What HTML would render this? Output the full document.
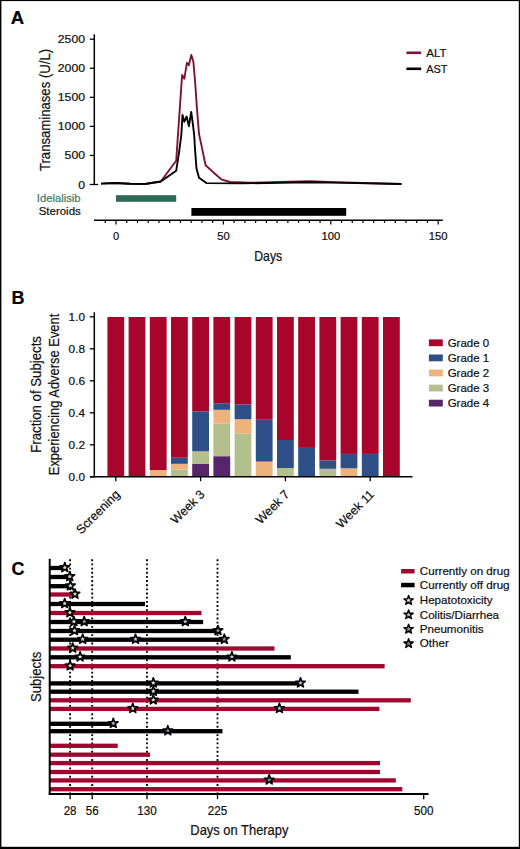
<!DOCTYPE html>
<html><head><meta charset="utf-8"><style>
html,body{margin:0;padding:0;background:#fff;}
#wrap{position:relative;width:520px;height:849px;overflow:hidden;}
svg{position:absolute;left:0;top:0;}
text{font-family:"Liberation Sans", sans-serif;stroke:#111;stroke-width:0.22px;}
</style></head><body><div id="wrap">
<svg width="520" height="849" viewBox="0 0 520 849">
<rect x="0" y="0" width="520" height="849" fill="#fff"/>
<text x="10.8" y="23.6" font-size="18.5" text-anchor="start" fill="#000" style="stroke:#000" font-weight="bold" >A</text>
<line x1="94.3" y1="34.3" x2="94.3" y2="184.8" stroke="#000" stroke-width="1.5"/>
<line x1="89.8" y1="39.20" x2="94.3" y2="39.20" stroke="#000" stroke-width="1.3"/>
<text x="85" y="43.2" font-size="11.3" text-anchor="end" fill="#111" style="stroke:#111" font-weight="normal" textLength="27.2" lengthAdjust="spacingAndGlyphs" >2500</text>
<line x1="89.8" y1="68.26" x2="94.3" y2="68.26" stroke="#000" stroke-width="1.3"/>
<text x="85" y="72.26" font-size="11.3" text-anchor="end" fill="#111" style="stroke:#111" font-weight="normal" textLength="27.2" lengthAdjust="spacingAndGlyphs" >2000</text>
<line x1="89.8" y1="97.32" x2="94.3" y2="97.32" stroke="#000" stroke-width="1.3"/>
<text x="85" y="101.32" font-size="11.3" text-anchor="end" fill="#111" style="stroke:#111" font-weight="normal" textLength="27.2" lengthAdjust="spacingAndGlyphs" >1500</text>
<line x1="89.8" y1="126.38" x2="94.3" y2="126.38" stroke="#000" stroke-width="1.3"/>
<text x="85" y="130.38" font-size="11.3" text-anchor="end" fill="#111" style="stroke:#111" font-weight="normal" textLength="27.2" lengthAdjust="spacingAndGlyphs" >1000</text>
<line x1="89.8" y1="155.44" x2="94.3" y2="155.44" stroke="#000" stroke-width="1.3"/>
<text x="85" y="159.44" font-size="11.3" text-anchor="end" fill="#111" style="stroke:#111" font-weight="normal" textLength="20.4" lengthAdjust="spacingAndGlyphs" >500</text>
<line x1="89.8" y1="184.50" x2="98.2" y2="184.50" stroke="#000" stroke-width="1.3"/>
<text x="85" y="188.5" font-size="11.3" text-anchor="end" fill="#111" style="stroke:#111" font-weight="normal" textLength="6.8" lengthAdjust="spacingAndGlyphs" >0</text>
<text transform="translate(49.6,110) rotate(-90)" font-size="14" text-anchor="middle" fill="#111" textLength="122.2" lengthAdjust="spacingAndGlyphs">Transaminases (U/L)</text>
<line x1="94" y1="220.3" x2="442.8" y2="220.3" stroke="#000" stroke-width="1.5"/>
<line x1="105.26" y1="220.3" x2="105.26" y2="222.9" stroke="#000" stroke-width="1.2"/>
<line x1="116.00" y1="220.3" x2="116.00" y2="224.5" stroke="#000" stroke-width="1.2"/>
<line x1="126.74" y1="220.3" x2="126.74" y2="222.9" stroke="#000" stroke-width="1.2"/>
<line x1="137.48" y1="220.3" x2="137.48" y2="222.9" stroke="#000" stroke-width="1.2"/>
<line x1="148.22" y1="220.3" x2="148.22" y2="222.9" stroke="#000" stroke-width="1.2"/>
<line x1="158.96" y1="220.3" x2="158.96" y2="222.9" stroke="#000" stroke-width="1.2"/>
<line x1="169.70" y1="220.3" x2="169.70" y2="222.9" stroke="#000" stroke-width="1.2"/>
<line x1="180.44" y1="220.3" x2="180.44" y2="222.9" stroke="#000" stroke-width="1.2"/>
<line x1="191.18" y1="220.3" x2="191.18" y2="222.9" stroke="#000" stroke-width="1.2"/>
<line x1="201.92" y1="220.3" x2="201.92" y2="222.9" stroke="#000" stroke-width="1.2"/>
<line x1="212.66" y1="220.3" x2="212.66" y2="222.9" stroke="#000" stroke-width="1.2"/>
<line x1="223.40" y1="220.3" x2="223.40" y2="224.5" stroke="#000" stroke-width="1.2"/>
<line x1="234.14" y1="220.3" x2="234.14" y2="222.9" stroke="#000" stroke-width="1.2"/>
<line x1="244.88" y1="220.3" x2="244.88" y2="222.9" stroke="#000" stroke-width="1.2"/>
<line x1="255.62" y1="220.3" x2="255.62" y2="222.9" stroke="#000" stroke-width="1.2"/>
<line x1="266.36" y1="220.3" x2="266.36" y2="222.9" stroke="#000" stroke-width="1.2"/>
<line x1="277.10" y1="220.3" x2="277.10" y2="222.9" stroke="#000" stroke-width="1.2"/>
<line x1="287.84" y1="220.3" x2="287.84" y2="222.9" stroke="#000" stroke-width="1.2"/>
<line x1="298.58" y1="220.3" x2="298.58" y2="222.9" stroke="#000" stroke-width="1.2"/>
<line x1="309.32" y1="220.3" x2="309.32" y2="222.9" stroke="#000" stroke-width="1.2"/>
<line x1="320.06" y1="220.3" x2="320.06" y2="222.9" stroke="#000" stroke-width="1.2"/>
<line x1="330.80" y1="220.3" x2="330.80" y2="224.5" stroke="#000" stroke-width="1.2"/>
<line x1="341.54" y1="220.3" x2="341.54" y2="222.9" stroke="#000" stroke-width="1.2"/>
<line x1="352.28" y1="220.3" x2="352.28" y2="222.9" stroke="#000" stroke-width="1.2"/>
<line x1="363.02" y1="220.3" x2="363.02" y2="222.9" stroke="#000" stroke-width="1.2"/>
<line x1="373.76" y1="220.3" x2="373.76" y2="222.9" stroke="#000" stroke-width="1.2"/>
<line x1="384.50" y1="220.3" x2="384.50" y2="222.9" stroke="#000" stroke-width="1.2"/>
<line x1="395.24" y1="220.3" x2="395.24" y2="222.9" stroke="#000" stroke-width="1.2"/>
<line x1="405.98" y1="220.3" x2="405.98" y2="222.9" stroke="#000" stroke-width="1.2"/>
<line x1="416.72" y1="220.3" x2="416.72" y2="222.9" stroke="#000" stroke-width="1.2"/>
<line x1="427.46" y1="220.3" x2="427.46" y2="222.9" stroke="#000" stroke-width="1.2"/>
<line x1="438.20" y1="220.3" x2="438.20" y2="224.5" stroke="#000" stroke-width="1.2"/>
<text x="116.0" y="240.4" font-size="11" text-anchor="middle" fill="#111" style="stroke:#111" font-weight="normal" textLength="6.2" lengthAdjust="spacingAndGlyphs" >0</text>
<text x="223.4" y="240.4" font-size="11" text-anchor="middle" fill="#111" style="stroke:#111" font-weight="normal" textLength="12.5" lengthAdjust="spacingAndGlyphs" >50</text>
<text x="330.8" y="240.4" font-size="11" text-anchor="middle" fill="#111" style="stroke:#111" font-weight="normal" textLength="18.8" lengthAdjust="spacingAndGlyphs" >100</text>
<text x="438.2" y="240.4" font-size="11" text-anchor="middle" fill="#111" style="stroke:#111" font-weight="normal" textLength="18.8" lengthAdjust="spacingAndGlyphs" >150</text>
<text x="268.2" y="260.6" font-size="14.6" text-anchor="middle" fill="#111" style="stroke:#111" font-weight="normal" textLength="27.9" lengthAdjust="spacingAndGlyphs" >Days</text>
<rect x="116" y="195.2" width="60.19999999999999" height="6.6" fill="#2f6a52"/>
<rect x="191.4" y="208" width="154.79999999999998" height="7.8" fill="#000"/>
<text x="80.6" y="202.1" font-size="11.2" text-anchor="end" fill="#3d7d64" style="stroke:#3d7d64" font-weight="normal" textLength="43.8" lengthAdjust="spacingAndGlyphs" >Idelalisib</text>
<text x="80.8" y="215.4" font-size="11.2" text-anchor="end" fill="#111" style="stroke:#111" font-weight="normal" textLength="42.1" lengthAdjust="spacingAndGlyphs" >Steroids</text>
<polyline points="101,183.6 115,183 130,183.8 145,184 160.8,181.5 176.2,160.8 182.1,75 184.3,78.8 186.9,62.8 188.8,65.3 191.3,55 193.4,61.8 195.2,83 196.9,107.7 199,134 201.5,145.6 205.6,165.3 213.8,172.7 221.2,179.3 230,182 250,182.8 280,182 310,181.3 335,182.3 401.5,184" fill="none" stroke="#801237" stroke-width="1.9" stroke-linejoin="round"/>
<polyline points="101,183.6 115,183 130,183.8 145,184 160.8,181.5 176.2,170.8 179.4,150 181.3,135 182.5,115 184.3,121.8 186.6,116.5 188.9,126.2 191.2,112 192.6,122 194.2,135 195,148.8 196.5,168.6 199,177.7 206.4,183.1 240,183.4 280,182.8 310,182.2 335,182.6 401.5,184" fill="none" stroke="#000" stroke-width="1.9" stroke-linejoin="round"/>
<line x1="406.4" y1="52.8" x2="421.2" y2="52.8" stroke="#801237" stroke-width="2.6"/>
<line x1="406.4" y1="68.8" x2="421.2" y2="68.8" stroke="#000" stroke-width="2.6"/>
<text x="426.2" y="56.8" font-size="11.4" text-anchor="start" fill="#111" style="stroke:#111" font-weight="normal" textLength="20.3" lengthAdjust="spacingAndGlyphs" >ALT</text>
<text x="426.2" y="73" font-size="11.4" text-anchor="start" fill="#111" style="stroke:#111" font-weight="normal" textLength="21.3" lengthAdjust="spacingAndGlyphs" >AST</text>
<text x="11.5" y="303.8" font-size="18" text-anchor="start" fill="#000" style="stroke:#000" font-weight="bold" >B</text>
<line x1="94.3" y1="312.3" x2="94.3" y2="477.5" stroke="#000" stroke-width="1.5"/>
<line x1="89.8" y1="316.80" x2="94.3" y2="316.80" stroke="#000" stroke-width="1.3"/>
<text x="85" y="320.5" font-size="11.4" text-anchor="end" fill="#111" style="stroke:#111" font-weight="normal" textLength="16.4" lengthAdjust="spacingAndGlyphs" >1.0</text>
<line x1="89.8" y1="348.80" x2="94.3" y2="348.80" stroke="#000" stroke-width="1.3"/>
<text x="85" y="352.5" font-size="11.4" text-anchor="end" fill="#111" style="stroke:#111" font-weight="normal" textLength="16.4" lengthAdjust="spacingAndGlyphs" >0.8</text>
<line x1="89.8" y1="380.80" x2="94.3" y2="380.80" stroke="#000" stroke-width="1.3"/>
<text x="85" y="384.5" font-size="11.4" text-anchor="end" fill="#111" style="stroke:#111" font-weight="normal" textLength="16.4" lengthAdjust="spacingAndGlyphs" >0.6</text>
<line x1="89.8" y1="412.80" x2="94.3" y2="412.80" stroke="#000" stroke-width="1.3"/>
<text x="85" y="416.5" font-size="11.4" text-anchor="end" fill="#111" style="stroke:#111" font-weight="normal" textLength="16.4" lengthAdjust="spacingAndGlyphs" >0.4</text>
<line x1="89.8" y1="444.80" x2="94.3" y2="444.80" stroke="#000" stroke-width="1.3"/>
<text x="85" y="448.5" font-size="11.4" text-anchor="end" fill="#111" style="stroke:#111" font-weight="normal" textLength="16.4" lengthAdjust="spacingAndGlyphs" >0.2</text>
<line x1="89.8" y1="476.80" x2="94.3" y2="476.80" stroke="#000" stroke-width="1.3"/>
<text x="85" y="480.5" font-size="11.4" text-anchor="end" fill="#111" style="stroke:#111" font-weight="normal" textLength="16.4" lengthAdjust="spacingAndGlyphs" >0.0</text>
<text transform="translate(41.2,394.4) rotate(-90)" font-size="14" text-anchor="middle" fill="#111" textLength="116.6" lengthAdjust="spacingAndGlyphs">Fraction of Subjects</text>
<text transform="translate(59.3,394.45) rotate(-90)" font-size="14" text-anchor="middle" fill="#111" textLength="161.5" lengthAdjust="spacingAndGlyphs">Experiencing Adverse Event</text>
<line x1="90" y1="476.8" x2="412.5" y2="476.8" stroke="#000" stroke-width="1.5"/>
<rect x="107.40" y="317" width="16.8" height="159.00" fill="#a8052c"/>
<rect x="128.60" y="317" width="16.8" height="159.00" fill="#a8052c"/>
<rect x="149.80" y="470" width="16.8" height="6.00" fill="#eeb27b"/>
<rect x="149.80" y="317" width="16.8" height="153.00" fill="#a8052c"/>
<rect x="171.00" y="469.5" width="16.8" height="6.50" fill="#b3bf8c"/>
<rect x="171.00" y="463.8" width="16.8" height="5.70" fill="#eeb27b"/>
<rect x="171.00" y="457.7" width="16.8" height="6.10" fill="#2f4f88"/>
<rect x="171.00" y="317" width="16.8" height="140.70" fill="#a8052c"/>
<rect x="192.20" y="464" width="16.8" height="12.00" fill="#55266a"/>
<rect x="192.20" y="451.3" width="16.8" height="12.70" fill="#b3bf8c"/>
<rect x="192.20" y="411.4" width="16.8" height="39.90" fill="#2f4f88"/>
<rect x="192.20" y="317" width="16.8" height="94.40" fill="#a8052c"/>
<rect x="213.40" y="456.2" width="16.8" height="19.80" fill="#55266a"/>
<rect x="213.40" y="423.4" width="16.8" height="32.80" fill="#b3bf8c"/>
<rect x="213.40" y="409.8" width="16.8" height="13.60" fill="#eeb27b"/>
<rect x="213.40" y="403.3" width="16.8" height="6.50" fill="#2f4f88"/>
<rect x="213.40" y="317" width="16.8" height="86.30" fill="#a8052c"/>
<rect x="234.60" y="433.4" width="16.8" height="42.60" fill="#b3bf8c"/>
<rect x="234.60" y="419.2" width="16.8" height="14.20" fill="#eeb27b"/>
<rect x="234.60" y="404.5" width="16.8" height="14.70" fill="#2f4f88"/>
<rect x="234.60" y="317" width="16.8" height="87.50" fill="#a8052c"/>
<rect x="255.80" y="461.6" width="16.8" height="14.40" fill="#eeb27b"/>
<rect x="255.80" y="419.2" width="16.8" height="42.40" fill="#2f4f88"/>
<rect x="255.80" y="317" width="16.8" height="102.20" fill="#a8052c"/>
<rect x="277.00" y="468" width="16.8" height="8.00" fill="#b3bf8c"/>
<rect x="277.00" y="440" width="16.8" height="28.00" fill="#2f4f88"/>
<rect x="277.00" y="317" width="16.8" height="123.00" fill="#a8052c"/>
<rect x="298.20" y="447.9" width="16.8" height="28.10" fill="#2f4f88"/>
<rect x="298.20" y="317" width="16.8" height="130.90" fill="#a8052c"/>
<rect x="319.40" y="468.8" width="16.8" height="7.20" fill="#b3bf8c"/>
<rect x="319.40" y="460.4" width="16.8" height="8.40" fill="#2f4f88"/>
<rect x="319.40" y="317" width="16.8" height="143.40" fill="#a8052c"/>
<rect x="340.60" y="468.3" width="16.8" height="7.70" fill="#eeb27b"/>
<rect x="340.60" y="453.9" width="16.8" height="14.40" fill="#2f4f88"/>
<rect x="340.60" y="317" width="16.8" height="136.90" fill="#a8052c"/>
<rect x="361.80" y="453.9" width="16.8" height="22.10" fill="#2f4f88"/>
<rect x="361.80" y="317" width="16.8" height="136.90" fill="#a8052c"/>
<rect x="383.00" y="317" width="16.8" height="159.00" fill="#a8052c"/>
<line x1="115.80" y1="476.8" x2="115.80" y2="481.2" stroke="#000" stroke-width="1.3"/>
<text transform="translate(120.60,495.2) rotate(-45)" font-size="12.4" text-anchor="end" fill="#111">Screening</text>
<line x1="200.60" y1="476.8" x2="200.60" y2="481.2" stroke="#000" stroke-width="1.3"/>
<text transform="translate(205.40,495.2) rotate(-45)" font-size="12.4" text-anchor="end" fill="#111">Week 3</text>
<line x1="285.40" y1="476.8" x2="285.40" y2="481.2" stroke="#000" stroke-width="1.3"/>
<text transform="translate(290.20,495.2) rotate(-45)" font-size="12.4" text-anchor="end" fill="#111">Week 7</text>
<line x1="370.20" y1="476.8" x2="370.20" y2="481.2" stroke="#000" stroke-width="1.3"/>
<text transform="translate(375.00,495.2) rotate(-45)" font-size="12.4" text-anchor="end" fill="#111">Week 11</text>
<rect x="428.9" y="339.40" width="13.9" height="6.8" fill="#a8052c"/>
<text x="447.7" y="346.9" font-size="11.5" text-anchor="start" fill="#111" style="stroke:#111" font-weight="normal" textLength="41.5" lengthAdjust="spacingAndGlyphs" >Grade 0</text>
<rect x="428.9" y="354.48" width="13.9" height="6.8" fill="#2f4f88"/>
<text x="447.7" y="361.98" font-size="11.5" text-anchor="start" fill="#111" style="stroke:#111" font-weight="normal" textLength="41.5" lengthAdjust="spacingAndGlyphs" >Grade 1</text>
<rect x="428.9" y="369.56" width="13.9" height="6.8" fill="#eeb27b"/>
<text x="447.7" y="377.06" font-size="11.5" text-anchor="start" fill="#111" style="stroke:#111" font-weight="normal" textLength="41.5" lengthAdjust="spacingAndGlyphs" >Grade 2</text>
<rect x="428.9" y="384.64" width="13.9" height="6.8" fill="#b3bf8c"/>
<text x="447.7" y="392.14" font-size="11.5" text-anchor="start" fill="#111" style="stroke:#111" font-weight="normal" textLength="41.5" lengthAdjust="spacingAndGlyphs" >Grade 3</text>
<rect x="428.9" y="399.72" width="13.9" height="6.8" fill="#55266a"/>
<text x="447.7" y="407.22" font-size="11.5" text-anchor="start" fill="#111" style="stroke:#111" font-weight="normal" textLength="41.5" lengthAdjust="spacingAndGlyphs" >Grade 4</text>
<text x="11.5" y="575" font-size="18" text-anchor="start" fill="#000" style="stroke:#000" font-weight="bold" >C</text>
<line x1="70.1" y1="559.3" x2="70.1" y2="794" stroke="#000" stroke-width="1.85" stroke-dasharray="1.85 2.313"/>
<line x1="92.2" y1="559.3" x2="92.2" y2="794" stroke="#000" stroke-width="1.85" stroke-dasharray="1.85 2.313"/>
<line x1="147" y1="559.3" x2="147" y2="794" stroke="#000" stroke-width="1.85" stroke-dasharray="1.85 2.313"/>
<line x1="217.5" y1="559.3" x2="217.5" y2="794" stroke="#000" stroke-width="1.85" stroke-dasharray="1.85 2.313"/>
<rect x="49.7" y="565.85" width="12.30" height="4.3" fill="#000"/>
<rect x="49.7" y="574.85" width="18.30" height="4.3" fill="#000"/>
<rect x="49.7" y="584.05" width="18.30" height="4.3" fill="#000"/>
<rect x="49.7" y="592.35" width="22.30" height="4.3" fill="#a0062f"/>
<rect x="49.7" y="601.85" width="95.30" height="4.3" fill="#000"/>
<rect x="49.7" y="610.85" width="151.80" height="4.3" fill="#a0062f"/>
<rect x="49.7" y="619.85" width="153.40" height="4.3" fill="#000"/>
<rect x="49.7" y="628.85" width="168.30" height="4.3" fill="#000"/>
<rect x="49.7" y="637.55" width="173.30" height="4.3" fill="#000"/>
<rect x="49.7" y="646.35" width="224.80" height="4.3" fill="#a0062f"/>
<rect x="49.7" y="655.15" width="241.10" height="4.3" fill="#000"/>
<rect x="49.7" y="664.05" width="334.90" height="4.3" fill="#a0062f"/>
<rect x="49.7" y="681.25" width="250.80" height="4.3" fill="#000"/>
<rect x="49.7" y="689.55" width="308.80" height="4.3" fill="#000"/>
<rect x="49.7" y="698.15" width="361.10" height="4.3" fill="#a0062f"/>
<rect x="49.7" y="706.75" width="329.70" height="4.3" fill="#a0062f"/>
<rect x="49.7" y="721.65" width="61.30" height="4.3" fill="#000"/>
<rect x="49.7" y="729.05" width="172.80" height="4.3" fill="#000"/>
<rect x="49.7" y="743.65" width="68.00" height="4.3" fill="#a0062f"/>
<rect x="49.7" y="752.55" width="100.30" height="4.3" fill="#a0062f"/>
<rect x="49.7" y="760.95" width="330.30" height="4.3" fill="#a0062f"/>
<rect x="49.7" y="769.85" width="330.30" height="4.3" fill="#a0062f"/>
<rect x="49.7" y="778.25" width="346.10" height="4.3" fill="#a0062f"/>
<rect x="49.7" y="787.05" width="352.60" height="4.3" fill="#a0062f"/>
<path d="M64.80,562.48 L65.98,565.86 L69.56,565.93 L66.70,568.09 L67.74,571.52 L64.80,569.48 L61.86,571.52 L62.90,568.09 L60.04,565.93 L63.62,565.86Z" fill="#f0d6b6" stroke="#000" stroke-width="1.65" stroke-linejoin="round"/>
<path d="M69.80,571.48 L70.98,574.86 L74.56,574.93 L71.70,577.09 L72.74,580.52 L69.80,578.48 L66.86,580.52 L67.90,577.09 L65.04,574.93 L68.62,574.86Z" fill="#f0d6b6" stroke="#000" stroke-width="1.65" stroke-linejoin="round"/>
<path d="M70.40,580.68 L71.58,584.06 L75.16,584.13 L72.30,586.29 L73.34,589.72 L70.40,587.68 L67.46,589.72 L68.50,586.29 L65.64,584.13 L69.22,584.06Z" fill="#f0d6b6" stroke="#000" stroke-width="1.65" stroke-linejoin="round"/>
<path d="M75.00,588.98 L76.18,592.36 L79.76,592.43 L76.90,594.59 L77.94,598.02 L75.00,595.98 L72.06,598.02 L73.10,594.59 L70.24,592.43 L73.82,592.36Z" fill="#f0d6b6" stroke="#000" stroke-width="1.65" stroke-linejoin="round"/>
<path d="M64.70,598.48 L65.88,601.86 L69.46,601.93 L66.60,604.09 L67.64,607.52 L64.70,605.48 L61.76,607.52 L62.80,604.09 L59.94,601.93 L63.52,601.86Z" fill="#f0d6b6" stroke="#000" stroke-width="1.65" stroke-linejoin="round"/>
<path d="M69.90,607.48 L71.08,610.86 L74.66,610.93 L71.80,613.09 L72.84,616.52 L69.90,614.48 L66.96,616.52 L68.00,613.09 L65.14,610.93 L68.72,610.86Z" fill="#f0d6b6" stroke="#000" stroke-width="1.65" stroke-linejoin="round"/>
<path d="M73.90,616.48 L75.08,619.86 L78.66,619.93 L75.80,622.09 L76.84,625.52 L73.90,623.48 L70.96,625.52 L72.00,622.09 L69.14,619.93 L72.72,619.86Z" fill="#f0d6b6" stroke="#000" stroke-width="1.65" stroke-linejoin="round"/>
<path d="M84.20,616.48 L85.38,619.86 L88.96,619.93 L86.10,622.09 L87.14,625.52 L84.20,623.48 L81.26,625.52 L82.30,622.09 L79.44,619.93 L83.02,619.86Z" fill="#8f9e76" stroke="#000" stroke-width="1.65" stroke-linejoin="round"/>
<path d="M185.30,616.48 L186.48,619.86 L190.06,619.93 L187.20,622.09 L188.24,625.52 L185.30,623.48 L182.36,625.52 L183.40,622.09 L180.54,619.93 L184.12,619.86Z" fill="#a8c4dc" stroke="#000" stroke-width="1.65" stroke-linejoin="round"/>
<path d="M74.50,625.48 L75.68,628.86 L79.26,628.93 L76.40,631.09 L77.44,634.52 L74.50,632.48 L71.56,634.52 L72.60,631.09 L69.74,628.93 L73.32,628.86Z" fill="#f0d6b6" stroke="#000" stroke-width="1.65" stroke-linejoin="round"/>
<path d="M218.00,625.48 L219.18,628.86 L222.76,628.93 L219.90,631.09 L220.94,634.52 L218.00,632.48 L215.06,634.52 L216.10,631.09 L213.24,628.93 L216.82,628.86Z" fill="#8f9e76" stroke="#000" stroke-width="1.65" stroke-linejoin="round"/>
<path d="M82.70,634.18 L83.88,637.56 L87.46,637.63 L84.60,639.79 L85.64,643.22 L82.70,641.18 L79.76,643.22 L80.80,639.79 L77.94,637.63 L81.52,637.56Z" fill="#f0d6b6" stroke="#000" stroke-width="1.65" stroke-linejoin="round"/>
<path d="M135.50,634.18 L136.68,637.56 L140.26,637.63 L137.40,639.79 L138.44,643.22 L135.50,641.18 L132.56,643.22 L133.60,639.79 L130.74,637.63 L134.32,637.56Z" fill="#a8c4dc" stroke="#000" stroke-width="1.65" stroke-linejoin="round"/>
<path d="M224.30,634.18 L225.48,637.56 L229.06,637.63 L226.20,639.79 L227.24,643.22 L224.30,641.18 L221.36,643.22 L222.40,639.79 L219.54,637.63 L223.12,637.56Z" fill="#8f9e76" stroke="#000" stroke-width="1.65" stroke-linejoin="round"/>
<path d="M72.70,642.98 L73.88,646.36 L77.46,646.43 L74.60,648.59 L75.64,652.02 L72.70,649.98 L69.76,652.02 L70.80,648.59 L67.94,646.43 L71.52,646.36Z" fill="#f0d6b6" stroke="#000" stroke-width="1.65" stroke-linejoin="round"/>
<path d="M80.10,651.77 L81.28,655.16 L84.86,655.23 L82.00,657.39 L83.04,660.82 L80.10,658.77 L77.16,660.82 L78.20,657.39 L75.34,655.23 L78.92,655.16Z" fill="#f0d6b6" stroke="#000" stroke-width="1.65" stroke-linejoin="round"/>
<path d="M231.90,651.77 L233.08,655.16 L236.66,655.23 L233.80,657.39 L234.84,660.82 L231.90,658.77 L228.96,660.82 L230.00,657.39 L227.14,655.23 L230.72,655.16Z" fill="#a8c4dc" stroke="#000" stroke-width="1.65" stroke-linejoin="round"/>
<path d="M70.10,660.68 L71.28,664.06 L74.86,664.13 L72.00,666.29 L73.04,669.72 L70.10,667.68 L67.16,669.72 L68.20,666.29 L65.34,664.13 L68.92,664.06Z" fill="#f0d6b6" stroke="#000" stroke-width="1.65" stroke-linejoin="round"/>
<path d="M153.30,677.88 L154.48,681.26 L158.06,681.33 L155.20,683.49 L156.24,686.92 L153.30,684.88 L150.36,686.92 L151.40,683.49 L148.54,681.33 L152.12,681.26Z" fill="#f0d6b6" stroke="#000" stroke-width="1.65" stroke-linejoin="round"/>
<path d="M300.50,677.88 L301.68,681.26 L305.26,681.33 L302.40,683.49 L303.44,686.92 L300.50,684.88 L297.56,686.92 L298.60,683.49 L295.74,681.33 L299.32,681.26Z" fill="#a8c4dc" stroke="#000" stroke-width="1.65" stroke-linejoin="round"/>
<path d="M153.30,686.18 L154.48,689.56 L158.06,689.63 L155.20,691.79 L156.24,695.22 L153.30,693.18 L150.36,695.22 L151.40,691.79 L148.54,689.63 L152.12,689.56Z" fill="#f0d6b6" stroke="#000" stroke-width="1.65" stroke-linejoin="round"/>
<path d="M153.30,694.77 L154.48,698.16 L158.06,698.23 L155.20,700.39 L156.24,703.82 L153.30,701.77 L150.36,703.82 L151.40,700.39 L148.54,698.23 L152.12,698.16Z" fill="#f0d6b6" stroke="#000" stroke-width="1.65" stroke-linejoin="round"/>
<path d="M132.80,703.38 L133.98,706.76 L137.56,706.83 L134.70,708.99 L135.74,712.42 L132.80,710.38 L129.86,712.42 L130.90,708.99 L128.04,706.83 L131.62,706.76Z" fill="#f0d6b6" stroke="#000" stroke-width="1.65" stroke-linejoin="round"/>
<path d="M279.40,703.38 L280.58,706.76 L284.16,706.83 L281.30,708.99 L282.34,712.42 L279.40,710.38 L276.46,712.42 L277.50,708.99 L274.64,706.83 L278.22,706.76Z" fill="#a8c4dc" stroke="#000" stroke-width="1.65" stroke-linejoin="round"/>
<path d="M113.30,718.27 L114.48,721.66 L118.06,721.73 L115.20,723.89 L116.24,727.32 L113.30,725.27 L110.36,727.32 L111.40,723.89 L108.54,721.73 L112.12,721.66Z" fill="#a8c4dc" stroke="#000" stroke-width="1.65" stroke-linejoin="round"/>
<path d="M167.80,725.68 L168.98,729.06 L172.56,729.13 L169.70,731.29 L170.74,734.72 L167.80,732.68 L164.86,734.72 L165.90,731.29 L163.04,729.13 L166.62,729.06Z" fill="#7c7ca4" stroke="#000" stroke-width="1.65" stroke-linejoin="round"/>
<path d="M269.20,774.88 L270.38,778.26 L273.96,778.33 L271.10,780.49 L272.14,783.92 L269.20,781.88 L266.26,783.92 L267.30,780.49 L264.44,778.33 L268.02,778.26Z" fill="#7c7ca4" stroke="#000" stroke-width="1.65" stroke-linejoin="round"/>
<line x1="49.7" y1="558.8" x2="49.7" y2="794.9" stroke="#000" stroke-width="2"/>
<line x1="48.800000000000004" y1="794" x2="428.5" y2="794" stroke="#000" stroke-width="1.8"/>
<line x1="70.1" y1="794" x2="70.1" y2="799.2" stroke="#000" stroke-width="1.3"/>
<text x="70.1" y="814.6" font-size="12.6" text-anchor="middle" fill="#111" style="stroke:#111" font-weight="normal" textLength="12.9" lengthAdjust="spacingAndGlyphs" >28</text>
<line x1="92.2" y1="794" x2="92.2" y2="799.2" stroke="#000" stroke-width="1.3"/>
<text x="92.2" y="814.6" font-size="12.6" text-anchor="middle" fill="#111" style="stroke:#111" font-weight="normal" textLength="12.9" lengthAdjust="spacingAndGlyphs" >56</text>
<line x1="147" y1="794" x2="147" y2="799.2" stroke="#000" stroke-width="1.3"/>
<text x="147" y="814.6" font-size="12.6" text-anchor="middle" fill="#111" style="stroke:#111" font-weight="normal" textLength="19.4" lengthAdjust="spacingAndGlyphs" >130</text>
<line x1="217.5" y1="794" x2="217.5" y2="799.2" stroke="#000" stroke-width="1.3"/>
<text x="217.5" y="814.6" font-size="12.6" text-anchor="middle" fill="#111" style="stroke:#111" font-weight="normal" textLength="19.4" lengthAdjust="spacingAndGlyphs" >225</text>
<line x1="423.7" y1="794" x2="423.7" y2="799.2" stroke="#000" stroke-width="1.3"/>
<text x="423.7" y="814.6" font-size="12.6" text-anchor="middle" fill="#111" style="stroke:#111" font-weight="normal" textLength="19.4" lengthAdjust="spacingAndGlyphs" >500</text>
<text x="239.4" y="835.3" font-size="14.5" text-anchor="middle" fill="#111" style="stroke:#111" font-weight="normal" textLength="98.1" lengthAdjust="spacingAndGlyphs" >Days on Therapy</text>
<text transform="translate(41.3,676.9) rotate(-90)" font-size="14.4" text-anchor="middle" fill="#111" textLength="50.4" lengthAdjust="spacingAndGlyphs">Subjects</text>
<rect x="401.1" y="569" width="13.5" height="4.5" fill="#a0062f"/>
<rect x="401.1" y="582.8" width="13.5" height="4.5" fill="#000"/>
<text x="419.8" y="575" font-size="11.6" text-anchor="start" fill="#111" style="stroke:#111" font-weight="normal" textLength="89.8" lengthAdjust="spacingAndGlyphs" >Currently on drug</text>
<text x="419.8" y="588.5" font-size="11.6" text-anchor="start" fill="#111" style="stroke:#111" font-weight="normal" textLength="89.8" lengthAdjust="spacingAndGlyphs" >Currently off drug</text>
<path d="M408.60,595.51 L409.74,598.79 L413.21,598.86 L410.45,600.96 L411.45,604.28 L408.60,602.30 L405.75,604.28 L406.75,600.96 L403.99,598.86 L407.46,598.79Z" fill="#f0d6b6" stroke="#000" stroke-width="1.45" stroke-linejoin="round"/>
<text x="419.8" y="604.1" font-size="11.6" text-anchor="start" fill="#111" style="stroke:#111" font-weight="normal" >Hepatotoxicity</text>
<path d="M408.60,609.91 L409.74,613.19 L413.21,613.26 L410.45,615.36 L411.45,618.68 L408.60,616.70 L405.75,618.68 L406.75,615.36 L403.99,613.26 L407.46,613.19Z" fill="#a8c4dc" stroke="#000" stroke-width="1.45" stroke-linejoin="round"/>
<text x="419.8" y="618.5" font-size="11.6" text-anchor="start" fill="#111" style="stroke:#111" font-weight="normal" >Colitis/Diarrhea</text>
<path d="M408.60,624.31 L409.74,627.59 L413.21,627.66 L410.45,629.76 L411.45,633.08 L408.60,631.10 L405.75,633.08 L406.75,629.76 L403.99,627.66 L407.46,627.59Z" fill="#8f9e76" stroke="#000" stroke-width="1.45" stroke-linejoin="round"/>
<text x="419.8" y="632.9" font-size="11.6" text-anchor="start" fill="#111" style="stroke:#111" font-weight="normal" >Pneumonitis</text>
<path d="M408.60,638.71 L409.74,641.99 L413.21,642.06 L410.45,644.16 L411.45,647.48 L408.60,645.50 L405.75,647.48 L406.75,644.16 L403.99,642.06 L407.46,641.99Z" fill="#7c7ca4" stroke="#000" stroke-width="1.45" stroke-linejoin="round"/>
<text x="419.8" y="647.3" font-size="11.6" text-anchor="start" fill="#111" style="stroke:#111" font-weight="normal" >Other</text>
<rect x="0" y="0" width="520" height="1.1" fill="#000"/><rect x="0" y="0" width="1.4" height="849" fill="#000"/><rect x="518.8" y="0" width="1.2" height="849" fill="#000"/><rect x="0" y="846.8" width="520" height="2.2" fill="#000"/>
</svg></div></body></html>
